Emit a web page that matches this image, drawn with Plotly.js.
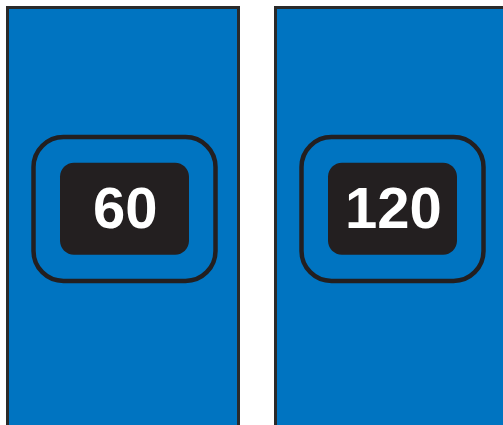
<!DOCTYPE html>
<html>
<head>
<meta charset="utf-8">
<script src="https://cdn.plot.ly/plotly-3.0.1.min.js"></script>
<style>html,body{margin:0;padding:0;background:#fff;}#chart{width:503px;height:425px;}</style>
</head>
<body>
<div id="chart"></div>
<script>
// Data
var labels = ['60', '120'];
var panelCenters = [123, 391];

// Styles
var BLUE = '#0074C1';
var DARK = '#231F20';

function roundRect(x0, y0, x1, y1, r) {
  var k = 0.5523 * r;
  return 'M' + (x0 + r) + ',' + y0 +
    ' L' + (x1 - r) + ',' + y0 +
    ' C' + (x1 - r + k) + ',' + y0 + ' ' + x1 + ',' + (y0 + r - k) + ' ' + x1 + ',' + (y0 + r) +
    ' L' + x1 + ',' + (y1 - r) +
    ' C' + x1 + ',' + (y1 - r + k) + ' ' + (x1 - r + k) + ',' + y1 + ' ' + (x1 - r) + ',' + y1 +
    ' L' + (x0 + r) + ',' + y1 +
    ' C' + (x0 + r - k) + ',' + y1 + ' ' + x0 + ',' + (y1 - r + k) + ' ' + x0 + ',' + (y1 - r) +
    ' L' + x0 + ',' + (y0 + r) +
    ' C' + x0 + ',' + (y0 + r - k) + ' ' + (x0 + r - k) + ',' + y0 + ' ' + (x0 + r) + ',' + y0 + ' Z';
}

var shapes = [];
panelCenters.forEach(function (cx) {
  var c = cx + 1.5;
  shapes.push({type: 'path', xref: 'x', yref: 'y', path: roundRect(c - 91, 137, c + 91, 281, 30),
    line: {color: DARK, width: 4.5}, fillcolor: 'rgba(0,0,0,0)', layer: 'above'});
  shapes.push({type: 'path', xref: 'x', yref: 'y', path: roundRect(c - 64.5, 162.8, c + 64.5, 254.8, 14),
    line: {width: 0}, fillcolor: DARK, layer: 'above'});
});

var annotations = labels.map(function (t, i) {
  return {
    x: panelCenters[i] + 2.5, y: 207, xref: 'x', yref: 'y',
    text: '<b>' + t + '</b>', showarrow: false,
    xanchor: 'center', yanchor: 'middle',
    font: {family: 'Liberation Sans, Arial, sans-serif', size: 58, color: '#ffffff'}
  };
});

var panels = {
  type: 'bar',
  x: panelCenters,
  y: panelCenters.map(function () { return 600; }),
  base: panelCenters.map(function () { return 7.5; }),
  width: panelCenters.map(function () { return 231; }),
  marker: {color: BLUE, line: {color: '#2a2a2a', width: 3}},
  hoverinfo: 'skip',
  showlegend: false
};

var layout = {
  width: 503, height: 425,
  margin: {l: 0, r: 0, t: 0, b: 0, pad: 0},
  paper_bgcolor: '#ffffff', plot_bgcolor: '#ffffff',
  xaxis: {range: [0, 503], visible: false, fixedrange: true},
  yaxis: {range: [425, 0], visible: false, fixedrange: true},
  shapes: shapes,
  annotations: annotations,
  showlegend: false
};

Plotly.newPlot('chart', [panels], layout, {displayModeBar: false, staticPlot: true});
</script>
</body>
</html>
